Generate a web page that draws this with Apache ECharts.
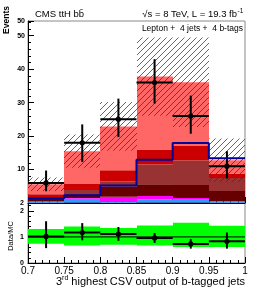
<!DOCTYPE html>
<html><head><meta charset="utf-8">
<script src="https://cdn.jsdelivr.net/npm/echarts@6/dist/echarts.min.js"></script>
<style>html,body{margin:0;padding:0;background:#fff}#c{width:258px;height:290px}</style>
</head><body><div id="c"></div>
<script>
// ---- data ----
const binEdges = [0.70, 0.75, 0.80, 0.85, 0.90, 0.95, 1.00];
const xTickLabels = ['0.7', '0.75', '0.8', '0.85', '0.9', '0.95', '1'];
const yTickLabels = ['', '10', '20', '30', '40', '50'];
const ratioTickLabels = ['0', '1', '2'];
// per-process yields (stacked bottom -> top)
const ewk   = [0.1, 0.3, 0.1, 0.3, 0.3, 0.1];
const ttV   = [0.2, 1.0, 0.2, 0.8, 0.7, 0.3];
const singleT = [0.2, 0.2, 1.6, 1.0, 0.5, 0.1];
const ttbb  = [0.9, 0.9, 3.0, 3.5, 3.9, 3.1];
const ttb   = [0.2, 1.5, 1.5, 5.9, 7.3, 3.9];
const ttcc  = [1.0, 1.8, 3.4, 4.5, 4.5, 1.3];
const ttlf  = [3.0, 9.8, 13.1, 21.8, 18.9, 4.0];
const ttH   = [1.4, 2.3, 5.2, 12.9, 17.9, 13.4];
const mcUnc = [2.0, 5.0, 7.3, 11.7, 13.4, 6.5];
const dataY   = [6, 18, 25, 36, 26, 11];
const dataHi  = [9.7, 23.5, 31.2, 43.0, 32.1, 15.5];
const dataLo  = [3.5, 12.3, 19.7, 29.7, 20.7, 7.3];
const ratioBandLo = [0.74, 0.67, 0.70, 0.67, 0.61, 0.61];
const ratioBandHi = [1.30, 1.40, 1.34, 1.44, 1.54, 1.43];
const ratioY  = [1.02, 1.17, 1.11, 0.96, 0.73, 0.83];
const ratioHi = [1.60, 1.53, 1.38, 1.15, 0.92, 1.17];
const ratioLo = [0.57, 0.87, 0.85, 0.77, 0.55, 0.55];

const layers = [
  {name: 'EWK', vals: ewk, color: '#2f6fb8'},
  {name: 'ttV', vals: ttV, color: '#3399ff'},
  {name: 'single t', vals: singleT, color: '#ff00ff'},
  {name: 'tt+bb', vals: ttbb, color: '#660000'},
  {name: 'tt+b', vals: ttb, color: '#993333'},
  {name: 'tt+cc', vals: ttcc, color: '#cc0000'},
  {name: 'tt+lf', vals: ttlf, color: '#ff6666'}
];

// hatch pattern
const pc = document.createElement('canvas');
pc.width = 6; pc.height = 6;
const pctx = pc.getContext('2d');
pctx.strokeStyle = '#333'; pctx.lineWidth = 0.75;
pctx.beginPath();
pctx.moveTo(-1, 7); pctx.lineTo(7, -1);
pctx.moveTo(-1, 1); pctx.lineTo(1, -1);
pctx.moveTo(5, 7); pctx.lineTo(7, 5);
pctx.stroke();

function rectSeries(name, data, fill, gi) {
  return {
    type: 'custom', name: name, xAxisIndex: gi, yAxisIndex: gi, clip: true, silent: true,
    data: data,
    renderItem: function (params, api) {
      const a = api.coord([api.value(0), api.value(3)]);
      const b = api.coord([api.value(1), api.value(2)]);
      const x0 = Math.round(a[0]), x1 = Math.round(b[0]);
      const y0 = a[1], y1 = b[1];
      return {type: 'rect', shape: {x: x0, y: y0, width: x1 - x0, height: y1 - y0},
        style: {fill: fill}};
    }
  };
}

function pointSeries(data, gi) {
  return {
    type: 'custom', xAxisIndex: gi, yAxisIndex: gi, clip: false, silent: true,
    data: data,
    renderItem: function (params, api) {
      const x0 = api.value(0), x1 = api.value(1), y = api.value(2), lo = api.value(3), hi = api.value(4);
      const pL = api.coord([x0, y]), pR = api.coord([x1, y]);
      const xm = (x0 + x1) / 2;
      const pLo = api.coord([xm, lo]), pHi = api.coord([xm, hi]);
      return {type: 'group', children: [
        {type: 'line', shape: {x1: pL[0], y1: pL[1], x2: pR[0], y2: pR[1]}, style: {stroke: '#000', lineWidth: 2}},
        {type: 'line', shape: {x1: pLo[0], y1: pLo[1], x2: pHi[0], y2: pHi[1]}, style: {stroke: '#000', lineWidth: 2}},
        {type: 'circle', shape: {cx: pLo[0], cy: pL[1], r: 2.6}, style: {fill: '#000'}}
      ]};
    }
  };
}

const series = [];
const base = binEdges.slice(0, -1).map(() => 0);
const totals = [];
layers.forEach(function (L) {
  const d = [];
  L.vals.forEach(function (v, i) {
    d.push([binEdges[i], binEdges[i + 1], base[i], base[i] + v]);
    base[i] += v;
  });
  series.push(rectSeries(L.name, d, L.color, 0));
});
base.forEach(function (v) { totals.push(v); });

// hatched MC uncertainty
series.push(rectSeries('MC unc', totals.map(function (t, i) {
  return [binEdges[i], binEdges[i + 1], t - mcUnc[i], t + mcUnc[i]];
}), {image: pc, repeat: 'repeat'}, 0));

// ttH step line
const tthPts = [];
ttH.forEach(function (v, i) { tthPts.push([binEdges[i], v]); tthPts.push([binEdges[i + 1], v]); });
series.push({type: 'line', xAxisIndex: 0, yAxisIndex: 0, data: tthPts, symbol: 'none', silent: true,
  lineStyle: {color: '#000099', width: 2}});

// data points
series.push(pointSeries(dataY.map(function (v, i) {
  return [binEdges[i], binEdges[i + 1], v, dataLo[i], dataHi[i]];
}), 0));

// ratio panel
series.push(rectSeries('band', ratioBandLo.map(function (v, i) {
  return [binEdges[i], binEdges[i + 1], v, ratioBandHi[i]];
}), '#00ff00', 1));
series.push({type: 'line', xAxisIndex: 1, yAxisIndex: 1, data: [[binEdges[0], 1], [binEdges[binEdges.length - 1], 1]],
  symbol: 'none', silent: true, lineStyle: {color: '#000', width: 1}});
series.push(pointSeries(ratioY.map(function (v, i) {
  return [binEdges[i], binEdges[i + 1], v, ratioLo[i], ratioHi[i]];
}), 1));

const FONT = '"Liberation Sans", Arial, sans-serif';

function xAxisCfg(gi, showLabels) {
  return {
    type: 'value', gridIndex: gi, min: 0.7, max: 1.0, interval: 0.05,
    axisLine: {show: true, onZero: false, lineStyle: {color: '#000', width: 1}},
    axisTick: {show: true, inside: true, length: 6, lineStyle: {color: '#000'}},
    minorTick: {show: true, splitNumber: 5, length: 3, lineStyle: {color: '#000'}},
    splitLine: {show: false},
    axisLabel: {show: showLabels, fontSize: 10, color: '#000', fontFamily: FONT, margin: 3,
      formatter: function (v) { return xTickLabels[Math.round((v - 0.7) / 0.05)]; }}
  };
}

const chart = echarts.init(document.getElementById('c'), null, {renderer: 'canvas'});

// measure x title pieces
const mctx = document.createElement('canvas').getContext('2d');
mctx.font = '11px ' + FONT;
const mainTxt = 'highest CSV output of b-tagged jets';
const wMain = mctx.measureText(mainTxt).width;
mctx.font = '7px ' + FONT;
const wRd = mctx.measureText('rd').width;
const xRight = 245;
const xRd = xRight - wMain - 3;

chart.setOption({
  animation: false,
  backgroundColor: '#fff',
  grid: [
    {left: 28, top: 21, width: 217, height: 182, show: true, borderColor: '#8a8a8a', borderWidth: 1},
    {left: 28, top: 203, width: 217, height: 60, show: true, borderColor: '#8a8a8a', borderWidth: 1}
  ],
  xAxis: [xAxisCfg(0, false), xAxisCfg(1, true)],
  yAxis: [
    {type: 'value', gridIndex: 0, min: 0, max: 54.4, interval: 10,
      axisLine: {show: true, lineStyle: {color: '#000'}},
      axisTick: {show: true, inside: true, length: 6, lineStyle: {color: '#000'}},
      minorTick: {show: true, splitNumber: 5, length: 3, lineStyle: {color: '#000'}},
      splitLine: {show: false},
      axisLabel: {fontSize: 7, fontWeight: 'bold', color: '#000', fontFamily: FONT, margin: 3,
        formatter: function (v) { const k = Math.round(v / 10); return yTickLabels[k] || ''; }}},
    {type: 'value', gridIndex: 1, min: 0, max: 2.3, interval: 1,
      axisLine: {show: true, lineStyle: {color: '#000'}},
      axisTick: {show: true, inside: true, length: 6, lineStyle: {color: '#000'}},
      minorTick: {show: true, splitNumber: 5, length: 3, lineStyle: {color: '#000'}},
      splitLine: {show: false},
      axisLabel: {fontSize: 7, fontWeight: 'bold', color: '#000', fontFamily: FONT, margin: 4,
        formatter: function (v) { return ratioTickLabels[Math.round(v)] || ''; }}}
  ],
  series: series,
  graphic: [
    {type: 'text', left: 35, top: 9, style: {text: 'CMS ttH bb\u0304', font: '9.5px ' + FONT, fill: '#000'}},
    {type: 'text', x: 237, y: 14, style: {text: '\u221As = 8 TeV, L = 19.3 fb', font: '9.5px ' + FONT, fill: '#000', align: 'right', verticalAlign: 'middle'}},
    {type: 'text', x: 237.5, y: 11, style: {text: '-1', font: '6.5px ' + FONT, fill: '#000', align: 'left', verticalAlign: 'middle'}},
    {type: 'text', x: 243, y: 29, style: {text: 'Lepton +  4 jets +  4 b-tags', font: '8.5px ' + FONT, fill: '#000', align: 'right', verticalAlign: 'middle'}},
    {type: 'text', x: 7, y: 20, rotation: Math.PI / 2, style: {text: 'Events', font: 'bold 8.5px ' + FONT, fill: '#000', align: 'center', verticalAlign: 'middle'}},
    {type: 'text', x: 11, y: 236, rotation: Math.PI / 2, style: {text: 'Data/MC', font: '7.5px ' + FONT, fill: '#000', align: 'center', verticalAlign: 'middle'}},
    {type: 'text', x: xRight, y: 282, style: {text: mainTxt, font: '11px ' + FONT, fill: '#000', align: 'right', verticalAlign: 'middle'}},
    {type: 'text', x: xRd, y: 278, style: {text: 'rd', font: '7px ' + FONT, fill: '#000', align: 'right', verticalAlign: 'middle'}},
    {type: 'text', x: xRd - wRd, y: 282, style: {text: '3', font: '11px ' + FONT, fill: '#000', align: 'right', verticalAlign: 'middle'}}
  ]
});
</script>
</body></html>
